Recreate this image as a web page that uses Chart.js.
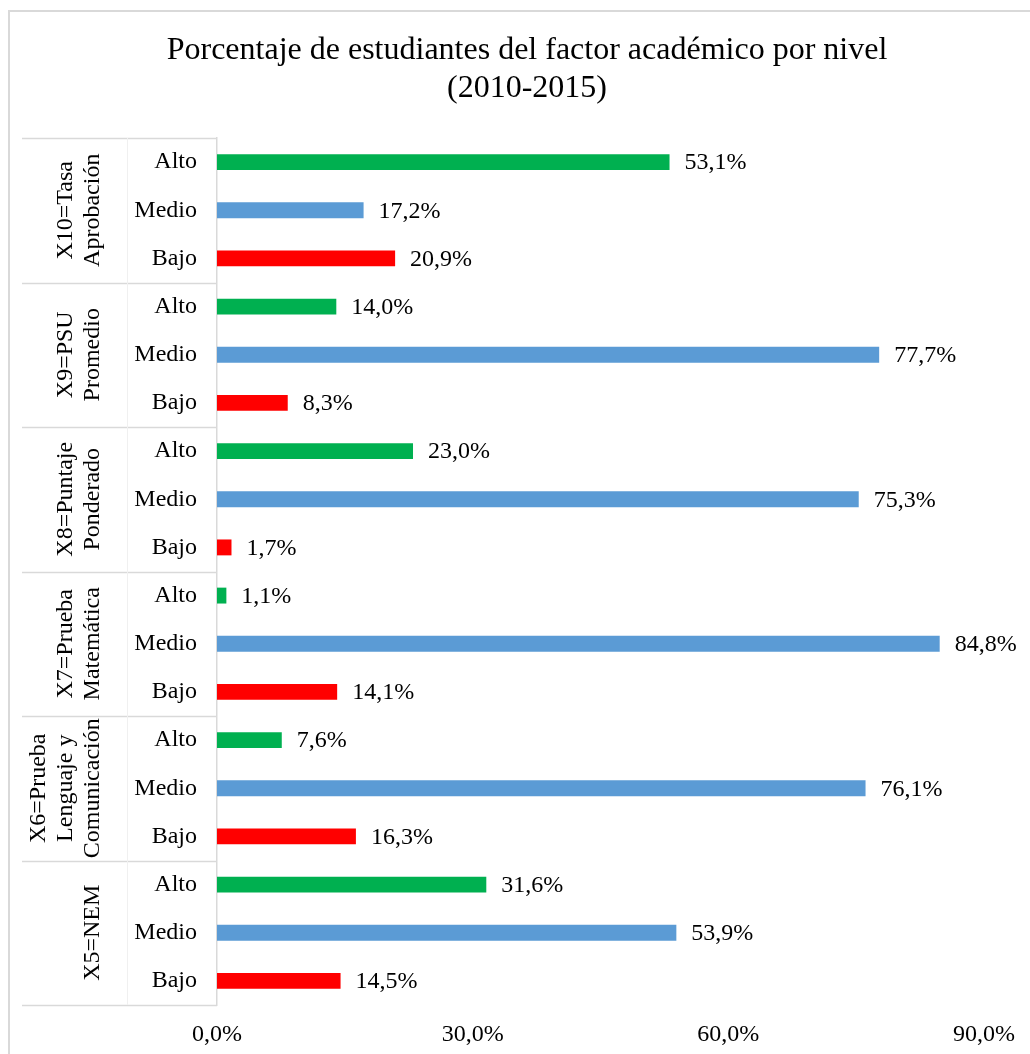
<!DOCTYPE html>
<html>
<head>
<meta charset="utf-8">
<script src="https://cdn.jsdelivr.net/npm/chart.js@4.4.0/dist/chart.umd.min.js"></script>
<style>
  html, body { margin: 0; padding: 0; background: #fff; overflow: hidden; }
  #wrap { width: 1054px; height: 1054px; }
</style>
</head>
<body>
<div id="wrap"><canvas id="chart" width="1054" height="1054"></canvas></div>
<script>
// chart title, one entry per line
const titleLines = ["Porcentaje de estudiantes del factor académico por nivel", "(2010-2015)"];
// levels shown on the category axis, top to bottom
const levels = ["Alto", "Medio", "Bajo"];
// group names (one entry per line of the rotated label), top to bottom
const groups = [
  ["X10=Tasa", "Aprobación"],
  ["X9=PSU", "Promedio"],
  ["X8=Puntaje", "Ponderado"],
  ["X7=Prueba", "Matemática"],
  ["X6=Prueba", "Lenguaje y", "Comunicación"],
  ["X5=NEM"]
];
// percentages per group, in Alto / Medio / Bajo order
const valuesX10 = [53.1, 17.2, 20.9];
const valuesX9 = [14.0, 77.7, 8.3];
const valuesX8 = [23.0, 75.3, 1.7];
const valuesX7 = [1.1, 84.8, 14.1];
const valuesX6 = [7.6, 76.1, 16.3];
const valuesX5 = [31.6, 53.9, 14.5];
const xTicks = [0, 30, 60, 90];

const levelColors = { Alto: "#00b050", Medio: "#5b9bd5", Bajo: "#ff0000" };
const FONT = "'Liberation Serif', 'Times New Roman', serif";
const GRID = "#d9d9d9";

const allValues = [valuesX10, valuesX9, valuesX8, valuesX7, valuesX6, valuesX5].flat();
const labels = groups.flatMap(() => levels);
const colors = labels.map((l) => levelColors[l]);

// format numbers with a decimal comma
const pct = (v) => v.toFixed(1).replace(".", ",") + "%";

// outer frame, title, group separators and rotated group names
const groupAxisPlugin = {
  id: "groupAxis",
  beforeDraw(chart) {
    const ctx = chart.ctx;
    ctx.save();
    ctx.strokeStyle = GRID;
    ctx.lineWidth = 2;
    ctx.strokeRect(9, 11, chart.width + 20, chart.height + 20);

    // title, centred on the whole frame
    ctx.fillStyle = "#000";
    ctx.font = "32px " + FONT;
    ctx.textAlign = "center";
    ctx.textBaseline = "alphabetic";
    titleLines.forEach((line, i) => ctx.fillText(line, 527, 59 + 38 * i));
    ctx.restore();
  },
  afterDraw(chart) {
    const ctx = chart.ctx;
    const y = chart.scales.y;
    const area = chart.chartArea;
    const per = levels.length;
    ctx.save();
    // separator lines between groups
    ctx.strokeStyle = GRID;
    ctx.lineWidth = 1.5;
    for (let g = 0; g <= groups.length; g++) {
      const yy = area.top + (area.bottom - area.top) * g / groups.length;
      ctx.beginPath();
      ctx.moveTo(22, Math.round(yy) + 0.5);
      ctx.lineTo(area.left, Math.round(yy) + 0.5);
      ctx.stroke();
    }
    ctx.strokeStyle = "#f0f0f0";
    ctx.lineWidth = 1;
    ctx.beginPath();
    ctx.moveTo(127.5, area.top);
    ctx.lineTo(127.5, area.bottom);
    ctx.stroke();

    // group names
    ctx.fillStyle = "#000";
    ctx.font = "24px " + FONT;
    ctx.textAlign = "center";
    ctx.textBaseline = "middle";
    groups.forEach((lines, g) => {
      const y0 = y.getPixelForValue(g * per);
      const y1 = y.getPixelForValue(g * per + per - 1);
      const cy = (y0 + y1) / 2;
      lines.forEach((line, i) => {
        const cx = 93 - 27 * (lines.length - 1 - i);
        ctx.save();
        ctx.translate(cx, cy);
        ctx.rotate(-Math.PI / 2);
        ctx.fillText(line, 0, 0);
        ctx.restore();
      });
    });
    ctx.restore();
  }
};

// value labels to the right of each bar
const valueLabelPlugin = {
  id: "valueLabels",
  afterDatasetsDraw(chart) {
    const ctx = chart.ctx;
    const meta = chart.getDatasetMeta(0);
    ctx.save();
    ctx.fillStyle = "#000";
    ctx.font = "24px " + FONT;
    ctx.textAlign = "left";
    ctx.textBaseline = "middle";
    meta.data.forEach((bar, i) => {
      ctx.fillText(pct(allValues[i]), bar.x + 15, bar.y + 1);
    });
    ctx.restore();
  }
};

new Chart(document.getElementById("chart"), {
  type: "bar",
  data: {
    labels: labels,
    datasets: [{
      data: allValues,
      backgroundColor: colors,
      barPercentage: 0.33,
      categoryPercentage: 1
    }]
  },
  options: {
    indexAxis: "y",
    responsive: false,
    animation: false,
    layout: { padding: { left: 0, right: 70, top: 138, bottom: 0 } },
    plugins: {
      legend: { display: false },
      tooltip: { enabled: false },
      title: { display: false }
    },
    scales: {
      x: {
        min: 0,
        max: 90,
        afterBuildTicks: (scale) => { scale.ticks = xTicks.map((v) => ({ value: v })); },
        afterFit: (scale) => { scale.height = 49; },
        grid: { display: false },
        border: { display: false },
        ticks: {
          color: "#000",
          font: { family: FONT, size: 24 },
          padding: 7,
          maxRotation: 0,
          callback: (v) => pct(v)
        }
      },
      y: {
        afterFit: (scale) => { scale.width = 217; },
        grid: { display: false },
        border: { display: true, color: GRID, width: 1.5 },
        ticks: {
          color: "#000",
          font: { family: FONT, size: 24 },
          padding: 12,
          autoSkip: false
        }
      }
    }
  },
  plugins: [groupAxisPlugin, valueLabelPlugin]
});
</script>
</body>
</html>
